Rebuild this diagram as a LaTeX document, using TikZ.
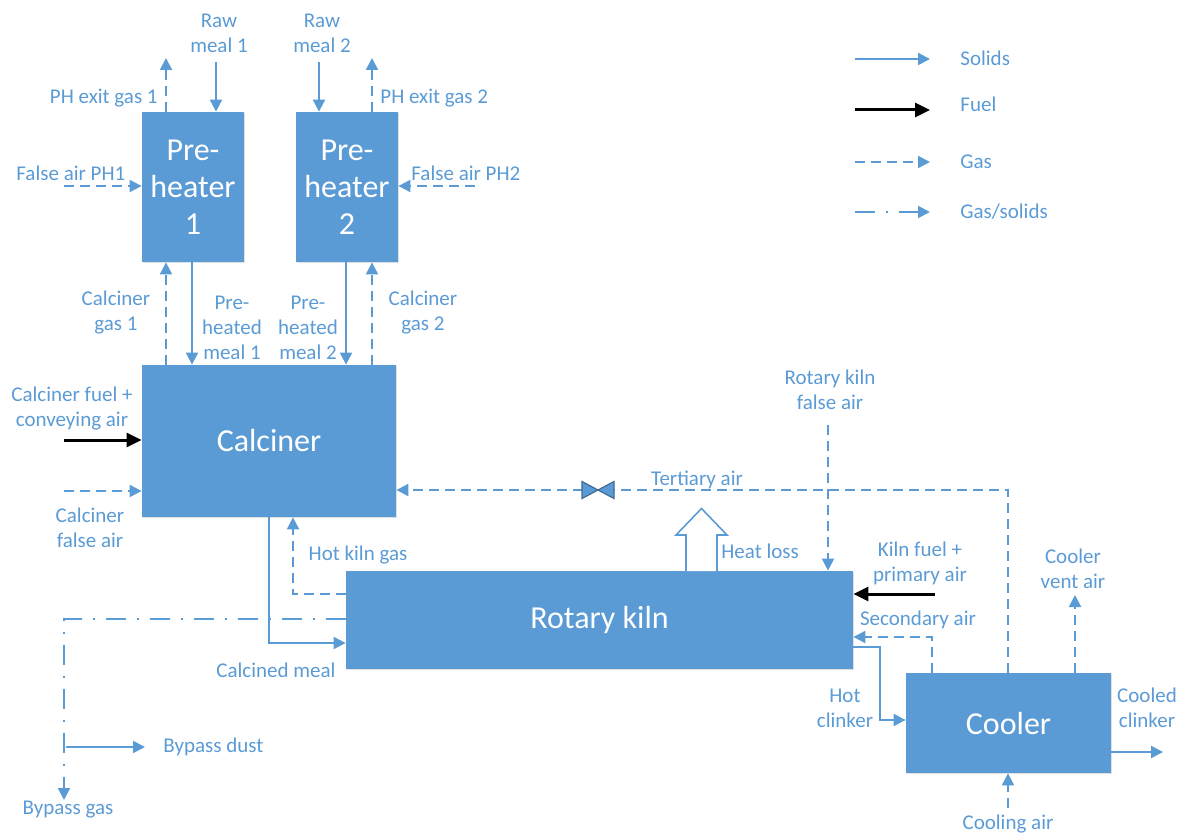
\documentclass[tikz,border=0pt]{standalone}
\usepackage{fontspec}
\setmainfont{Carlito}
\usetikzlibrary{arrows.meta,shadows}
\definecolor{kilnblue}{RGB}{91,155,213}
\newcommand\lblfont{\fontsize{10.5}{12.5}\selectfont}
\newcommand\unitfont{\fontsize{16}{18.5}\selectfont}

\begin{document}
\begin{tikzpicture}[x=0.5pt,y=-0.5pt,
 unit/.style={fill=kilnblue,text=white,font=\unitfont,align=center,inner sep=0pt,
   drop shadow={shadow xshift=0.7pt,shadow yshift=-0.7pt,opacity=0.25,fill=black!50}},
 lbl/.style={text=kilnblue,font=\lblfont,align=center,inner sep=0pt},
 solids/.style={draw=kilnblue,line width=1pt,-{Triangle[length=6pt,width=6pt]}},
 fuel/.style={draw=black,line width=1.5pt,-{Triangle[length=7.5pt,width=7pt]}},
 gas/.style={solids,dash pattern=on 5pt off 3pt},
 gassol/.style={solids,dash pattern=on 10pt off 5.5pt on 1pt off 5.5pt},
 valvesym/.style={fill=kilnblue,draw=kilnblue!70!black,line width=0.6pt},
 hollow/.style={fill=white,draw=kilnblue,line width=0.8pt}]
\useasboundingbox (0,0) rectangle (1183,834);

% process units
\node[unit,minimum width=51pt,minimum height=75pt] (ph1) at (193,187) {Pre-\\heater\\1};
\node[unit,minimum width=51pt,minimum height=75pt] (ph2) at (347,187) {Pre-\\heater\\2};
\node[unit,minimum width=127pt,minimum height=76pt] (calc) at (269,441) {Calciner};
\node[unit,minimum width=253.5pt,minimum height=49pt] (kiln) at (599.5,620) {Rotary kiln};
\node[unit,minimum width=102.5pt,minimum height=50pt] (cool) at (1008.5,723) {Cooler};

% preheater 1
\coordinate (pex1) at (166,58);
\coordinate (raw1) at (216,62);
\coordinate (fa1) at (64,186);
\draw[gas] (ph1.north -| pex1) -- (pex1);
\draw[solids] (raw1) -- (ph1.north -| raw1);
\draw[gas] (fa1) -- (ph1.west |- fa1);
\draw[gas] (calc.north -| 166,0) -- (ph1.south -| 166,0);
\draw[solids] (ph1.south -| 192,0) -- (calc.north -| 192,0);

% preheater 2
\coordinate (raw2) at (319,62);
\coordinate (pex2) at (372,58);
\coordinate (fa2) at (475,186);
\draw[solids] (raw2) -- (ph2.north -| raw2);
\draw[gas] (ph2.north -| pex2) -- (pex2);
\draw[gas] (fa2) -- (ph2.east |- fa2);
\draw[gas] (calc.north -| 372,0) -- (ph2.south -| 372,0);
\draw[solids] (ph2.south -| 346,0) -- (calc.north -| 346,0);

% calciner
\coordinate (cfuel) at (64,440);
\coordinate (cfa) at (64,491);
\draw[fuel] (cfuel) -- (calc.west |- cfuel);
\draw[gas] (cfa) -- (calc.west |- cfa);
\draw[gas] (cool.north -| 1008,0) |- (calc.east |- 0,490);
\coordinate (valve) at (598,490);
\draw[valvesym] (582,481.5) -- (614,498.5) -- (614,481.5) -- (582,498.5) -- cycle;
\draw[gas] (kiln.west |- 0,594) -| (calc.south -| 293,0);
\draw[solids] (calc.south -| 269,0) |- (kiln.west |- 0,643);

% kiln
\coordinate (rkfa) at (828,425);
\coordinate (kfuel) at (935,594);
\coordinate (bpgas) at (64,800);
\coordinate (bpd0) at (66,747);
\coordinate (bpd1) at (145,747);
\draw[gas] (rkfa) -- (kiln.north -| rkfa);
\draw[hollow] (686,571) -- (686,535) -- (676,535) -- (701.5,508.5) -- (727,535) -- (717,535) -- (717,571);
\draw[gassol] (kiln.west |- 0,619) -| (bpgas);
\draw[solids] (bpd0) -- (bpd1);
\draw[fuel] (kfuel) -- (kiln.east |- kfuel);
\draw[gas] (cool.north -| 932,0) |- (kiln.east |- 0,637);
\draw[solids] (kiln.east |- 0,647) -- ++(27,0) |- (cool.west |- 0,720);

% cooler
\coordinate (vent) at (1075,595);
\coordinate (cclk) at (1163,752);
\coordinate (cair) at (1008,808);
\draw[gas] (cool.north -| vent) -- (vent);
\draw[solids] (cool.east |- cclk) -- (cclk);
\draw[gas] (cair) -- (cool.south -| cair);

% labels
\node[lbl] (lraw1) at (219,33) {Raw\\meal 1};
\node[lbl] (lraw2) at (322,33) {Raw\\meal 2};
\node[lbl,anchor=east] (lpex1) at (158,98) {PH exit gas 1};
\node[lbl,anchor=west] (lpex2) at (380,98) {PH exit gas 2};
\node[lbl,anchor=west] (lfa1) at (16,173) {False air PH1};
\node[lbl,anchor=west] (lfa2) at (411,173) {False air PH2};
\node[lbl] (lcg1) at (116,313) {Calciner\\gas 1};
\node[lbl] (lpm1) at (232,328) {Pre-\\heated\\meal 1};
\node[lbl] (lpm2) at (308,328) {Pre-\\heated\\meal 2};
\node[lbl] (lcg2) at (423,313) {Calciner\\gas 2};
\node[lbl] (lcfuel) at (72,409) {Calciner fuel +\\conveying air};
\node[lbl] (lcfa) at (90,528) {Calciner\\false air};
\node[lbl] (lrkfa) at (830,390) {Rotary kiln\\false air};
\node[lbl] (lter) at (697,480) {Tertiary air};
\node[lbl,anchor=west] (lheat) at (721,551) {Heat loss};
\node[lbl] (lhkg) at (358,555) {Hot kiln gas};
\node[lbl] (lkfuel) at (920,563) {Kiln fuel +\\primary air};
\node[lbl] (lsec) at (918,620) {Secondary air};
\node[lbl] (lvent) at (1073,569) {Cooler\\vent air};
\node[lbl] (lhclk) at (845,708) {Hot\\clinker};
\node[lbl] (lcclk) at (1147,708) {Cooled\\clinker};
\node[lbl] (lcair) at (1008,824) {Cooling air};
\node[lbl] (lcmeal) at (276,670) {Calcined meal};
\node[lbl,anchor=west] (lbpd) at (163,747) {Bypass dust};
\node[lbl] (lbpg) at (68,810) {Bypass gas};

% legend
\foreach \ly/\ty/\lsty/\ltxt [count=\i] in {59/58/solids/Solids,110/104/fuel/Fuel,162/162/gas/Gas,212/212/gassol/{Gas/solids}} {
  \coordinate (leg\i a) at (855,\ly);
  \coordinate (leg\i b) at (930,\ly);
  \draw[\lsty] (leg\i a) -- (leg\i b);
  \node[lbl,anchor=west] (leg\i t) at (960,\ty) {\ltxt};
}
\end{tikzpicture}
\end{document}
